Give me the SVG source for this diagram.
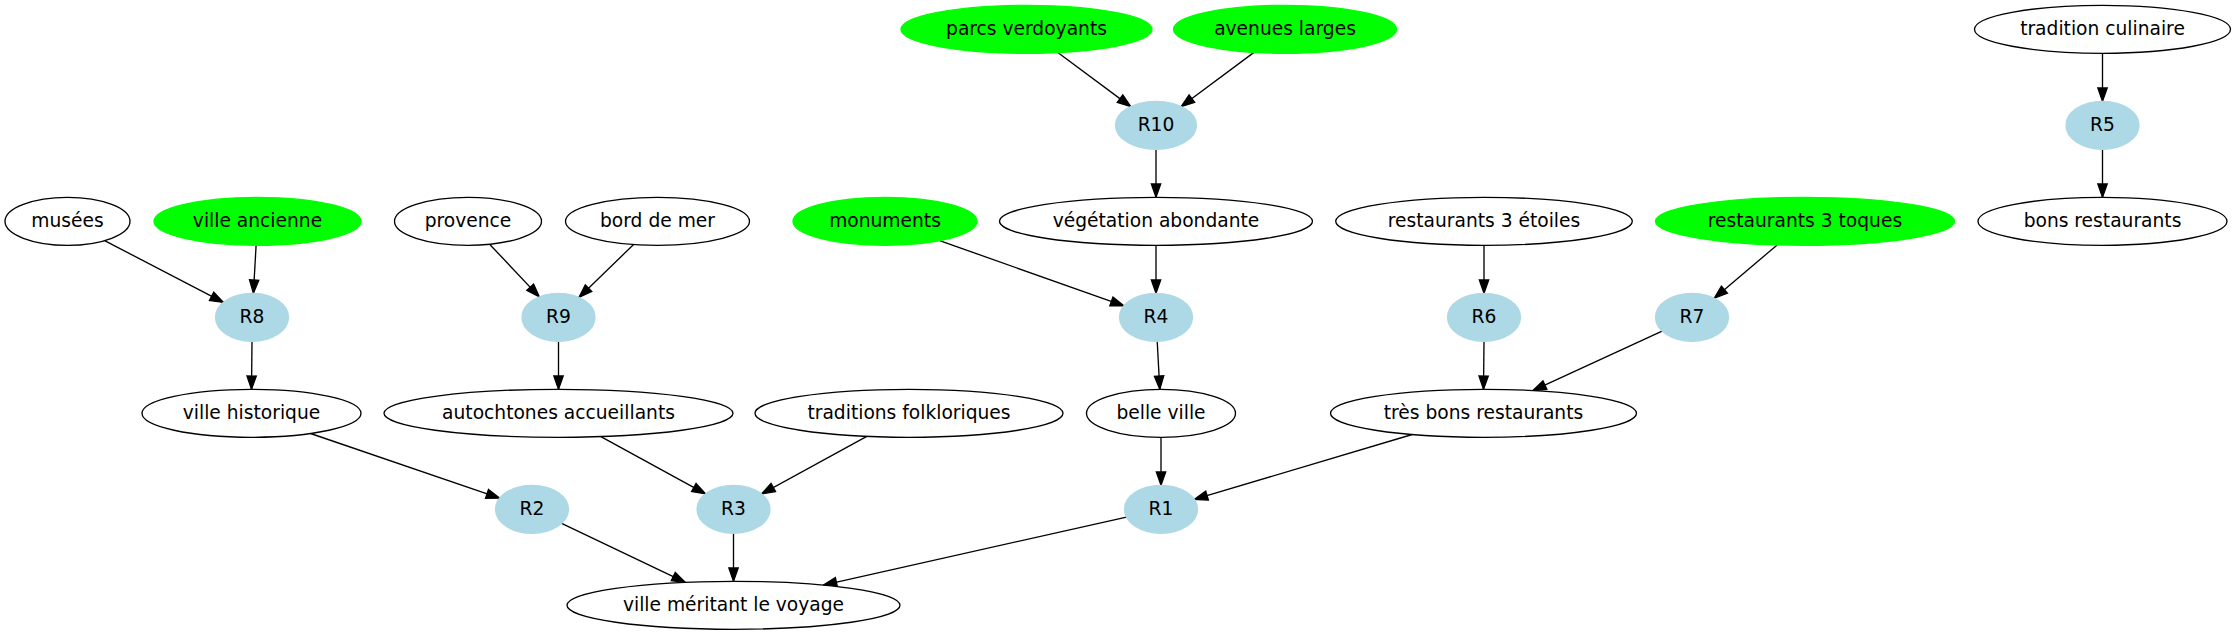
<svg xmlns="http://www.w3.org/2000/svg" width="2236" height="635" viewBox="0 0 2236 635">
<style>
text{font-family:"DejaVu Sans",Verdana,sans-serif;font-size:18.67px;text-anchor:middle;fill:#000}
.plain ellipse{fill:#fff;stroke:#000;stroke-width:1.33}
.green ellipse{fill:#00ff00;stroke:#00ff00;stroke-width:1.33}
.rule ellipse{fill:#add8e6;stroke:#add8e6;stroke-width:1.33}
#edges line{stroke:#000;stroke-width:1.33;marker-end:url(#arr)}
</style>
<defs>
<marker id="arr" markerUnits="userSpaceOnUse" markerWidth="16" markerHeight="12" refX="13.3" refY="4.67" orient="auto" viewBox="-1 -1 16 12" overflow="visible">
<path d="M0,0 L13.3,4.67 L0,9.33 Z" fill="#000" stroke="#000" stroke-width="1.33"/>
</marker>
</defs>
<rect width="2236" height="635" fill="#fff"/>
<g id="edges">
<line x1="104.6" y1="240.6" x2="223.4" y2="302.4"/>
<line x1="256.1" y1="245.3" x2="253.4" y2="293.3"/>
<line x1="489.6" y1="244.2" x2="539.3" y2="296.9"/>
<line x1="633.6" y1="244.5" x2="579" y2="297.4"/>
<line x1="252" y1="341.3" x2="251.5" y2="389.3"/>
<line x1="558.5" y1="341.3" x2="558.5" y2="389.3"/>
<line x1="310.6" y1="433.5" x2="499.6" y2="498.2"/>
<line x1="600.9" y1="436.6" x2="705.5" y2="493.9"/>
<line x1="866.8" y1="436.4" x2="761.6" y2="493.9"/>
<line x1="561.6" y1="523.4" x2="685.3" y2="582.3"/>
<line x1="733.5" y1="533.3" x2="733.5" y2="581.3"/>
<line x1="1126.5" y1="517.1" x2="823.4" y2="585.1"/>
<line x1="1057.8" y1="52.5" x2="1130.7" y2="106.6"/>
<line x1="1254" y1="52.4" x2="1181.2" y2="106.5"/>
<line x1="1156" y1="149.3" x2="1156" y2="197.3"/>
<line x1="1156" y1="245.3" x2="1156" y2="293.3"/>
<line x1="939.6" y1="240.6" x2="1123.9" y2="305.9"/>
<line x1="1157.2" y1="341.3" x2="1159.8" y2="389.3"/>
<line x1="1161" y1="437.3" x2="1161" y2="485.3"/>
<line x1="1412.2" y1="434.5" x2="1194.3" y2="499.4"/>
<line x1="1484" y1="245.3" x2="1484" y2="293.3"/>
<line x1="1777.2" y1="244.9" x2="1714.3" y2="298.3"/>
<line x1="1484" y1="341.3" x2="1483.5" y2="389.3"/>
<line x1="1662.1" y1="331.1" x2="1532.8" y2="390.6"/>
<line x1="2102.5" y1="53.3" x2="2102.5" y2="101.3"/>
<line x1="2102.5" y1="149.3" x2="2102.5" y2="197.3"/>
</g>
<g id="parcs_verdoyants" class="green"><ellipse cx="1026.5" cy="29.3" rx="125.5" ry="24"/><text x="1026.5" y="34.7">parcs verdoyants</text></g>
<g id="avenues_larges" class="green"><ellipse cx="1285" cy="29.3" rx="111.5" ry="24"/><text x="1285" y="34.7">avenues larges</text></g>
<g id="tradition_culinaire" class="plain"><ellipse cx="2102.5" cy="29.3" rx="128" ry="24"/><text x="2102.5" y="34.7">tradition culinaire</text></g>
<g id="R10" class="rule"><ellipse cx="1156" cy="125.3" rx="40.5" ry="24"/><text x="1156" y="130.7">R10</text></g>
<g id="R5" class="rule"><ellipse cx="2102.5" cy="125.3" rx="36.5" ry="24"/><text x="2102.5" y="130.7">R5</text></g>
<g id="musees" class="plain"><ellipse cx="67.5" cy="221.3" rx="62.5" ry="24"/><text x="67.5" y="226.7">musées</text></g>
<g id="ville_ancienne" class="green"><ellipse cx="257.5" cy="221.3" rx="103.5" ry="24"/><text x="257.5" y="226.7">ville ancienne</text></g>
<g id="provence" class="plain"><ellipse cx="468" cy="221.3" rx="73.5" ry="24"/><text x="468" y="226.7">provence</text></g>
<g id="bord_de_mer" class="plain"><ellipse cx="657.5" cy="221.3" rx="92" ry="24"/><text x="657.5" y="226.7">bord de mer</text></g>
<g id="monuments" class="green"><ellipse cx="885" cy="221.3" rx="92" ry="24"/><text x="885" y="226.7">monuments</text></g>
<g id="vegetation_abondante" class="plain"><ellipse cx="1156" cy="221.3" rx="156.5" ry="24"/><text x="1156" y="226.7">végétation abondante</text></g>
<g id="restaurants_3_etoiles" class="plain"><ellipse cx="1484" cy="221.3" rx="148.3" ry="24"/><text x="1484" y="226.7">restaurants 3 étoiles</text></g>
<g id="restaurants_3_toques" class="green"><ellipse cx="1805" cy="221.3" rx="149.5" ry="24"/><text x="1805" y="226.7">restaurants 3 toques</text></g>
<g id="bons_restaurants" class="plain"><ellipse cx="2102.5" cy="221.3" rx="124.5" ry="24"/><text x="2102.5" y="226.7">bons restaurants</text></g>
<g id="R8" class="rule"><ellipse cx="252" cy="317.3" rx="36.5" ry="24"/><text x="252" y="322.7">R8</text></g>
<g id="R9" class="rule"><ellipse cx="558.5" cy="317.3" rx="36.5" ry="24"/><text x="558.5" y="322.7">R9</text></g>
<g id="R4" class="rule"><ellipse cx="1156" cy="317.3" rx="36.5" ry="24"/><text x="1156" y="322.7">R4</text></g>
<g id="R6" class="rule"><ellipse cx="1484" cy="317.3" rx="36.5" ry="24"/><text x="1484" y="322.7">R6</text></g>
<g id="R7" class="rule"><ellipse cx="1692" cy="317.3" rx="36.5" ry="24"/><text x="1692" y="322.7">R7</text></g>
<g id="ville_historique" class="plain"><ellipse cx="251.5" cy="413.3" rx="109.5" ry="24"/><text x="251.5" y="418.7">ville historique</text></g>
<g id="autochtones_accueillants" class="plain"><ellipse cx="558.5" cy="413.3" rx="174.5" ry="24"/><text x="558.5" y="418.7">autochtones accueillants</text></g>
<g id="traditions_folkloriques" class="plain"><ellipse cx="909" cy="413.3" rx="154" ry="24"/><text x="909" y="418.7">traditions folkloriques</text></g>
<g id="belle_ville" class="plain"><ellipse cx="1161" cy="413.3" rx="74.5" ry="24"/><text x="1161" y="418.7">belle ville</text></g>
<g id="tres_bons_restaurants" class="plain"><ellipse cx="1483.5" cy="413.3" rx="153" ry="24"/><text x="1483.5" y="418.7">très bons restaurants</text></g>
<g id="R2" class="rule"><ellipse cx="532" cy="509.3" rx="36.5" ry="24"/><text x="532" y="514.7">R2</text></g>
<g id="R3" class="rule"><ellipse cx="733.5" cy="509.3" rx="36.5" ry="24"/><text x="733.5" y="514.7">R3</text></g>
<g id="R1" class="rule"><ellipse cx="1161" cy="509.3" rx="36.5" ry="24"/><text x="1161" y="514.7">R1</text></g>
<g id="ville_meritant_le_voyage" class="plain"><ellipse cx="733.5" cy="605.3" rx="166.5" ry="24"/><text x="733.5" y="610.7">ville méritant le voyage</text></g>
</svg>
